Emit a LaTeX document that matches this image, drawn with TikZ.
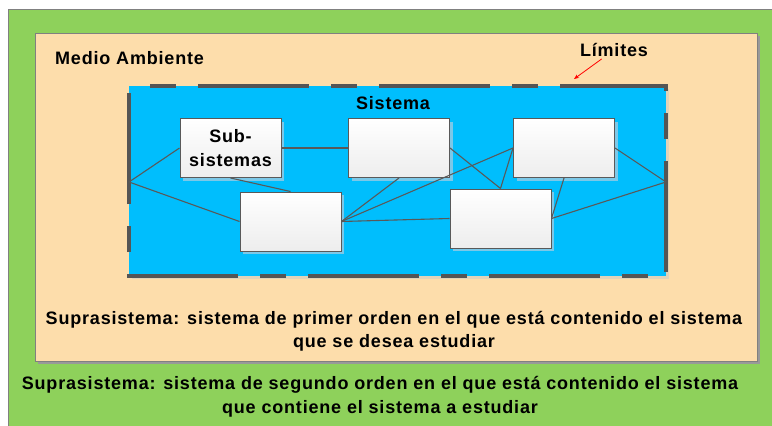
\documentclass[tikz,border=0pt]{standalone}
\usepackage{fontspec}
\setmainfont{Liberation Sans}[LetterSpace=4.5]
\usetikzlibrary{arrows.meta,shadows}
\definecolor{grn}{HTML}{8ED15B}
\definecolor{peach}{HTML}{FDDDAB}
\definecolor{sky}{HTML}{00BEFD}
\definecolor{tanshadow}{HTML}{E2D3B8}
\definecolor{boxshadow}{HTML}{7CC8E8}
\definecolor{bordercol}{HTML}{555555}
\definecolor{linecol}{HTML}{595959}
\tikzset{
  box/.style={draw=linecol, line width=1pt, top color=white, bottom color=black!7,
    minimum width=101pt, minimum height=59pt, inner sep=0pt, align=center,
    drop shadow={shadow xshift=3pt, shadow yshift=-3pt, fill=boxshadow, opacity=1}},
  conn/.style={draw=linecol, line width=1.1pt},
  lbl/.style={inner sep=2pt, align=center},
}
\begin{document}
\begin{tikzpicture}[x=1pt,y=-1pt, font=\bfseries\fontsize{18}{23.5}\selectfont]
\useasboundingbox (0,0) rectangle (772,426);
\fill[white] (0,0) rectangle (772,426);
% outer green suprasystem
\filldraw[fill=grn, draw=gray, line width=1pt] (8,9) rectangle (776,430);
% peach environment
\fill[black!40] (37.5,35.5) rectangle (759.5,363.5);
\filldraw[fill=peach, draw=gray, line width=1pt] (35,33) rectangle (757,361);
% system
\fill[tanshadow] (132,89) rectangle (669,279);
\fill[sky] (129,86) rectangle (666,276);
\draw[bordercol, line width=4pt, dash pattern=on 26pt off 22pt on 111pt off 22pt, dash phase=160pt]
  (129,86) -- (666,86) -- (666,276) -- (129,276) -- cycle;
\coordinate (lj) at (129,182);
\coordinate (rj) at (666,182);
% labels
\node[lbl, anchor=west] (medio) at (53,58) {Medio Ambiente};
\node[lbl] (lim) at (614,50) {Límites};
\coordinate (limtip) at (574,79);
\draw[red, line width=0.8pt, -{Stealth[length=5pt,width=4pt]}] (lim) -- (limtip);
\node[lbl] (sis) at (393,103) {Sistema};
% subsystems
\node[box] (sub) at (230.5,148) {Sub-\\sistemas};
\node[box] (b2) at (399,148) {};
\node[box] (b3) at (564,148) {};
\node[box] (b4) at (290.5,221.5) {};
\node[box] (b5) at (500.5,218.5) {};
% connectors
\draw[conn] (lj) -- (sub.west);
\draw[conn] (lj) -- (b4.west);
\draw[conn] (sub.south) -- (b4.north);
\draw[conn] (sub.east) -- (b2.west);
\draw[conn] (b2.south) -- (b4.east);
\draw[conn] (b2.east) -- (b5.north);
\draw[conn] (b3.west) -- (b4.east);
\draw[conn] (b3.west) -- (b5.north);
\draw[conn] (b3.south) -- (b5.east);
\draw[conn] (b4.east) -- (b5.west);
\draw[conn] (b3.east) -- (rj);
\draw[conn] (b5.east) -- (rj);
% texts
\node[lbl] (supra1) at (394,331.5) {Suprasistema: sistema de primer orden en el que está contenido el sistema\\que se desea estudiar};
\node[lbl] (supra2) at (380,397) {Suprasistema: sistema de segundo orden en el que está contenido el sistema\\que contiene el sistema a estudiar};
\end{tikzpicture}
\end{document}
